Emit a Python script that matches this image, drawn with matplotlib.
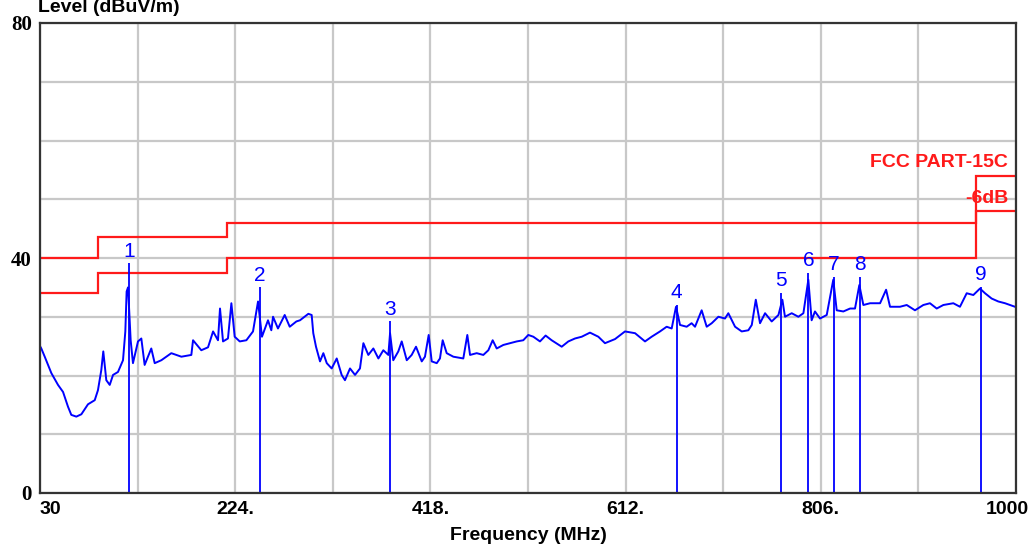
import numpy as np
import matplotlib
matplotlib.use('Agg')
import matplotlib.pyplot as plt
import matplotlib.transforms as mtransforms

# measured trace (MHz, dBuV/m)
freq = [30.0, 31.3, 34.7, 41.3, 47.9, 52.9, 57.8, 61.1, 66.1, 71.1, 77.7, 84.4, 87.6, 90.9, 92.9,
        95.9, 99.3, 102.6, 107.5, 112.5, 114.8, 116.1, 117.5, 120.1, 122.4, 127.4, 130.7, 134.0,
        140.6, 144.0, 150.6, 160.5, 170.5, 180.4, 182.1, 190.3, 197.0, 202.0, 206.9, 208.9, 211.9,
        216.8, 220.2, 223.5, 228.5, 235.1, 241.7, 246.7, 250.6, 256.6, 259.9, 261.6, 266.5, 273.2,
        278.2, 284.8, 288.4, 296.7, 300.0, 301.6, 304.3, 308.3, 311.6, 315.0, 319.9, 324.9, 329.8,
        333.1, 338.1, 343.1, 348.0, 351.4, 356.3, 361.3, 366.3, 371.2, 376.2, 377.9, 381.1, 386.1,
        389.5, 394.5, 399.4, 403.7, 409.4, 412.6, 416.3, 419.3, 424.3, 427.5, 430.2, 434.2, 440.8,
        450.7, 454.7, 457.4, 464.0, 470.6, 475.6, 479.9, 483.9, 490.5, 497.1, 503.8, 510.3, 515.3,
        520.3, 526.9, 532.5, 538.5, 548.5, 555.1, 561.7, 568.4, 576.6, 584.9, 591.5, 601.5, 611.4,
        621.4, 631.3, 637.9, 646.2, 652.8, 657.8, 662.1, 666.1, 672.7, 677.6, 681.0, 687.6, 692.6,
        697.6, 704.2, 710.8, 714.1, 720.8, 727.4, 734.0, 737.4, 741.4, 745.6, 750.6, 757.2, 763.9,
        767.8, 770.4, 777.1, 783.7, 788.7, 793.6, 796.9, 800.2, 805.2, 811.9, 818.4, 821.8, 828.4,
        835.1, 840.0, 844.3, 848.3, 855.0, 864.9, 870.9, 874.8, 884.7, 891.4, 899.6, 907.9, 914.5,
        921.2, 927.8, 937.7, 944.3, 951.0, 957.6, 964.2, 969.2, 975.8, 982.4, 989.1, 994.0, 999.0]
level = [25.0, 24.6, 23.2, 20.4, 18.4, 17.2, 14.7, 13.3, 13.0, 13.4, 15.1, 15.8, 17.5, 20.9, 24.1,
         19.2, 18.4, 20.1, 20.6, 22.6, 27.5, 34.3, 35.0, 26.0, 22.1, 25.8, 26.3, 21.8,
         24.6, 22.1, 22.6, 23.8, 23.2, 23.5, 26.0, 24.3, 24.8, 27.5, 26.0, 31.4, 25.8,
         26.3, 32.3, 26.6, 25.8, 26.0, 27.5, 32.6, 26.6, 29.4, 27.7, 30.0, 28.0, 30.3,
         28.3, 29.2, 29.4, 30.5, 30.3, 27.2, 24.9, 22.4, 23.8, 22.1, 21.2, 22.9, 20.1,
         19.2, 21.2, 20.1, 21.2, 25.5, 23.5, 24.6, 22.9, 24.3, 23.5, 27.2, 22.6, 24.1,
         25.8, 22.6, 23.5, 24.9, 22.4, 23.2, 26.9, 22.4, 22.1, 22.9, 26.0, 23.8, 23.2,
         22.9, 26.9, 23.5, 23.8, 23.5, 24.3, 26.0, 24.6, 25.2, 25.5, 25.8, 26.0, 26.9,
         26.6, 25.8, 26.8, 26.0, 24.9, 25.8, 26.3, 26.6, 27.3, 26.6, 25.5, 26.2, 27.5,
         27.2, 25.8, 26.6, 27.5, 28.3, 28.0, 31.7, 28.6, 28.3, 28.9, 28.3, 31.1, 28.3,
         28.9, 30.0, 29.7, 30.6, 28.3, 27.5, 27.7, 28.6, 32.9, 28.9, 30.6, 29.2, 30.3,
         32.9, 30.0, 30.6, 30.0, 30.6, 36.3, 29.4, 30.9, 29.7, 30.3, 36.3, 31.1, 30.9,
         31.4, 31.4, 35.4, 32.0, 32.3, 32.3, 34.6, 31.7, 31.7, 32.0, 31.1, 32.0, 32.3,
         31.4, 32.0, 32.3, 31.7, 34.0, 33.7, 34.8, 34.0, 33.1, 32.6, 32.3, 32.0, 31.7]

# FCC part 15 limit
limit_edges = [30, 88, 216, 960, 1000]
limit_vals = [40, 43.5, 46, 54]
margin_vals = [34, 37.5, 40, 48]

# markers
marker_freq = [118.5, 248.7, 378.2, 662.8, 766.5, 793.6, 819.2, 845.0, 965.0]
marker_level = [39.1, 35.0, 29.2, 32.0, 34.0, 37.4, 36.8, 36.8, 35.1]

x_ticks = [30, 127, 224, 321, 418, 515, 612, 709, 806, 903, 1000]
x_labels = ['30', '', '224.', '', '418.', '', '612.', '', '806.', '', '1000']
y_ticks = [0, 10, 20, 30, 40, 50, 60, 70, 80]
y_labels = ['0', '', '', '', '40', '', '', '', '80']

fig = plt.figure(figsize=(10.35, 5.48), dpi=100)
ax = fig.add_axes([40/1035, 1 - 493/548, 976/1035, 470/548])

ax.set_xlim(30, 1000)
ax.set_ylim(0, 80)
ax.set_xticks(x_ticks)
ax.set_xticklabels(x_labels, fontfamily='Liberation Sans', fontweight='bold', fontsize=14)
ax.set_yticks(y_ticks)
ax.set_yticklabels(y_labels, fontfamily='Liberation Serif', fontweight='bold', fontsize=15)
ax.tick_params(length=0, pad=6)
ax.grid(True, color='#c8c8c8', linewidth=1.6)
ax.set_axisbelow(True)
for sp in ax.spines.values():
    sp.set_color('#333333')
    sp.set_linewidth(1.6)

# first/last x labels aligned to the sides
xl = ax.get_xticklabels()
xl[0].set_horizontalalignment('left')
xl[-1].set_horizontalalignment('right')
xl[-1].set_transform(xl[-1].get_transform() + mtransforms.ScaledTranslation(13/100, 0, fig.dpi_scale_trans))

ax.stairs(limit_vals, limit_edges, baseline=None, color='#ff1a1a', linewidth=1.6)
ax.stairs(margin_vals, limit_edges, baseline=None, color='#ff1a1a', linewidth=1.6)

ax.plot(freq, level, color='blue', linewidth=1.4)

ax.vlines(marker_freq, 0, marker_level, color='blue', linewidth=1.3)
for i, (f, l) in enumerate(zip(marker_freq, marker_level)):
    ax.annotate(str(i + 1), (f, l), xytext=(0, 2), textcoords='offset points',
                ha='center', va='bottom', color='blue', fontsize=15,
                fontfamily='Liberation Sans')

ax.text(0.992, 56.2, 'FCC PART-15C', transform=ax.get_yaxis_transform(),
        ha='right', va='center', color='#ff1a1a', fontsize=14, fontweight='bold',
        fontfamily='Liberation Sans')
ax.text(0.992, 50.2, '-6dB', transform=ax.get_yaxis_transform(),
        ha='right', va='center', color='#ff1a1a', fontsize=14, fontweight='bold',
        fontfamily='Liberation Sans')

fig.text(38/1035, 1 - 7/548, 'Level (dBuV/m)', ha='left', va='center',
         fontsize=14, fontweight='bold', fontfamily='Liberation Sans')
fig.text(528/1035, 1 - 535/548, 'Frequency (MHz)', ha='center', va='center',
         fontsize=14, fontweight='bold', fontfamily='Liberation Sans')

fig.savefig('out.png', dpi=100)
